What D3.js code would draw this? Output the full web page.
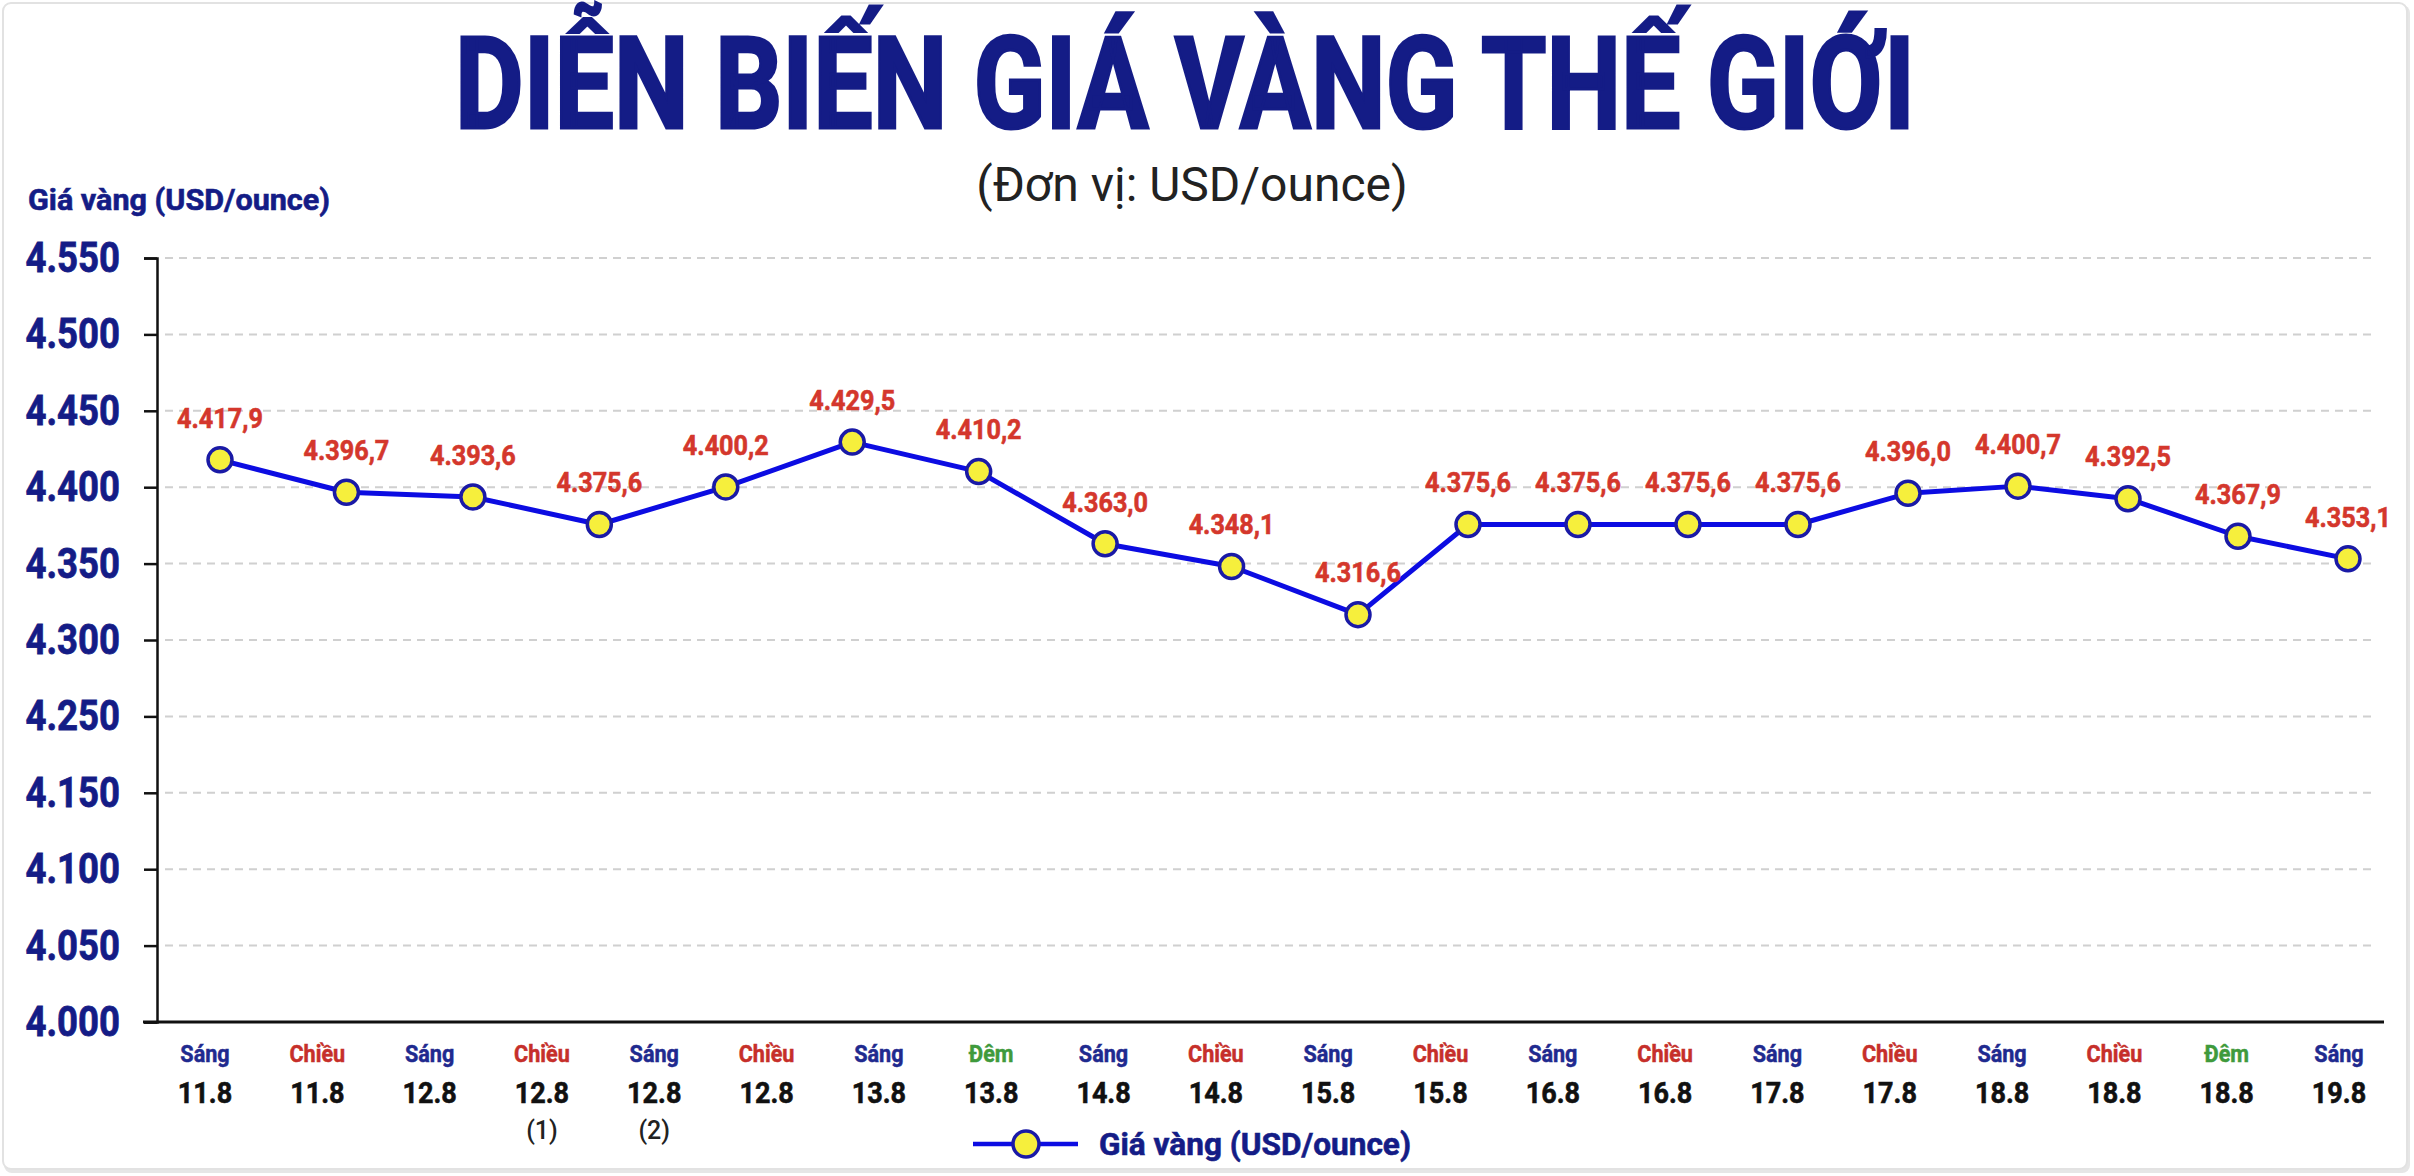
<!DOCTYPE html>
<html>
<head>
<meta charset="utf-8">
<script src="https://cdn.jsdelivr.net/npm/d3@7"></script>
<style>
  html, body { margin: 0; padding: 0; background: #fff; }
  svg { display: block; font-family: Roboto, "Noto Sans", sans-serif; }
</style>
</head>
<body>
<svg id="chart" width="2414" height="1176"></svg>
<script>
// --- data ---
const periods = ['Sáng', 'Chiều', 'Sáng', 'Chiều', 'Sáng', 'Chiều', 'Sáng', 'Đêm', 'Sáng', 'Chiều',
                 'Sáng', 'Chiều', 'Sáng', 'Chiều', 'Sáng', 'Chiều', 'Sáng', 'Chiều', 'Đêm', 'Sáng'];
const dates = ['11.8', '11.8', '12.8', '12.8', '12.8', '12.8', '13.8', '13.8', '14.8', '14.8',
               '15.8', '15.8', '16.8', '16.8', '17.8', '17.8', '18.8', '18.8', '18.8', '19.8'];
const notes = ['', '', '', '(1)', '(2)', '', '', '', '', '', '', '', '', '', '', '', '', '', '', ''];

// 19 price points (the picture shows 19 markers under 20 labels)
const prices = [4417.9, 4396.7, 4393.6, 4375.6, 4400.2, 4429.5, 4410.2, 4363.0, 4348.1, 4316.6,
                4375.6, 4375.6, 4375.6, 4375.6, 4396.0, 4400.7, 4392.5, 4367.9, 4353.1];

// y ticks as printed (the source skips 4.200)
const yTickValues = [4550, 4500, 4450, 4400, 4350, 4300, 4250, 4200, 4150, 4100, 4050];
const yTickLabels = ['4.550', '4.500', '4.450', '4.400', '4.350', '4.300', '4.250', '4.150', '4.100', '4.050', '4.000'];

const title = 'DIỄN BIẾN GIÁ VÀNG THẾ GIỚI';
const subtitle = '(Đơn vị: USD/ounce)';
const yTitle = 'Giá vàng (USD/ounce)';
const seriesName = 'Giá vàng (USD/ounce)';

// --- colours ---
const navy = '#141c86';
const periodColor = { 'Sáng': '#1f2a8f', 'Chiều': '#c62f2a', 'Đêm': '#3f9a3c' };
const labelRed = '#d4372c';
const lineBlue = '#0c0ce2';
const dotFill = '#f6ef3c';
const dotStroke = '#1a1aa6';

const width = 2414;
const height = 1176;
const plotLeft = 157, plotRight = 2384, plotTop = 258, plotBottom = 1022;

const svg = d3.select('#chart');

// squeeze text a little, the source uses a narrow bold face
function squeeze(sel, k) {
  sel.each(function() {
    const w = this.getComputedTextLength();
    d3.select(this).attr('textLength', w * k).attr('lengthAdjust', 'spacingAndGlyphs');
  });
}

// card
svg.append('rect')
  .attr('x', 4).attr('y', 5).attr('width', width - 8).attr('height', height - 8)
  .attr('rx', 8).attr('fill', '#e6e6e6');
svg.append('rect')
  .attr('x', 3).attr('y', 3).attr('width', width - 10).attr('height', height - 10)
  .attr('rx', 8).attr('fill', '#fff').attr('stroke', '#e2e2e2').attr('stroke-width', 2);

// titles
svg.append('text')
  .attr('x', 1185).attr('y', 128)
  .attr('text-anchor', 'middle')
  .attr('font-size', 128).attr('font-weight', 'bold')
  .attr('fill', navy).attr('stroke', navy).attr('stroke-width', 3)
  .attr('textLength', 1460).attr('lengthAdjust', 'spacingAndGlyphs')
  .text(title);

svg.append('text')
  .attr('x', 1192).attr('y', 201)
  .attr('text-anchor', 'middle')
  .attr('font-size', 48)
  .attr('fill', '#222')
  .text(subtitle);

svg.append('text')
  .attr('x', 28).attr('y', 210)
  .attr('font-size', 30).attr('font-weight', 'bold')
  .attr('fill', navy).attr('stroke', navy).attr('stroke-width', 0.6)
  .attr('textLength', 302).attr('lengthAdjust', 'spacingAndGlyphs')
  .text(yTitle);

// scales
const y = d3.scaleLinear()
  .domain([4050, 4550])
  .range([plotBottom, plotTop]);

const xCat = d3.scalePoint()
  .domain(d3.range(periods.length))
  .range([205, 2339]);

// the markers are spread a bit wider on the left half than the right half
const xPt = d3.scaleLinear()
  .domain([0, 9, prices.length - 1])
  .range([220, 1358, 2348]);

// gridlines
svg.append('g')
  .selectAll('line')
  .data(yTickValues.filter(d => d > 4050))
  .join('line')
  .attr('x1', 165).attr('x2', 2374)
  .attr('y1', d => y(d)).attr('y2', d => y(d))
  .attr('stroke', '#d0d0d0').attr('stroke-width', 2)
  .attr('stroke-dasharray', '8,6');

// y axis
const yAxis = svg.append('g')
  .attr('transform', `translate(${plotLeft},0)`)
  .call(d3.axisLeft(y)
    .tickValues(yTickValues)
    .tickFormat((d, i) => yTickLabels[i])
    .tickSize(13)
    .tickPadding(24));

yAxis.select('.domain').attr('stroke', '#111').attr('stroke-width', 2.5);
yAxis.selectAll('.tick line').attr('stroke', '#111').attr('stroke-width', 2.5);
yAxis.selectAll('.tick text')
  .attr('font-size', 42).attr('font-weight', 'bold')
  .attr('font-family', 'Roboto, sans-serif')
  .attr('fill', navy).attr('stroke', navy).attr('stroke-width', 0.8)
  .call(squeeze, 0.87);

// x axis line
svg.append('line')
  .attr('x1', 143).attr('x2', plotRight)
  .attr('y1', plotBottom).attr('y2', plotBottom)
  .attr('stroke', '#111').attr('stroke-width', 3);

// category labels
const cat = svg.append('g')
  .selectAll('g')
  .data(periods.map((p, i) => ({ period: p, date: dates[i], note: notes[i], i })))
  .join('g')
  .attr('transform', d => `translate(${xCat(d.i)},0)`);

cat.append('text')
  .attr('y', 1054).attr('dy', '0.35em')
  .attr('text-anchor', 'middle')
  .attr('font-size', 24).attr('font-weight', 'bold')
  .attr('fill', d => periodColor[d.period])
  .attr('stroke', d => periodColor[d.period]).attr('stroke-width', 0.5)
  .text(d => d.period)
  .call(squeeze, 0.9);

cat.append('text')
  .attr('y', 1092).attr('dy', '0.35em')
  .attr('text-anchor', 'middle')
  .attr('font-size', 30).attr('font-weight', 'bold')
  .attr('fill', '#111').attr('stroke', '#111').attr('stroke-width', 0.6)
  .text(d => d.date)
  .call(squeeze, 0.9);

cat.filter(d => d.note !== '')
  .append('text')
  .attr('y', 1130).attr('dy', '0.35em')
  .attr('text-anchor', 'middle')
  .attr('font-size', 25).attr('font-weight', 500)
  .attr('fill', '#222')
  .text(d => d.note);

// line
const line = d3.line()
  .x((d, i) => xPt(i))
  .y(d => y(d));

svg.append('path')
  .datum(prices)
  .attr('d', line)
  .attr('fill', 'none')
  .attr('stroke', lineBlue)
  .attr('stroke-width', 5)
  .attr('stroke-linejoin', 'round');

// markers
svg.append('g')
  .selectAll('circle')
  .data(prices)
  .join('circle')
  .attr('cx', (d, i) => xPt(i))
  .attr('cy', d => y(d))
  .attr('r', 12)
  .attr('fill', dotFill)
  .attr('stroke', dotStroke)
  .attr('stroke-width', 3.5);

// value labels, vietnamese style 4.417,9
const fmt = d => d3.format(',.1f')(d).replace(/,/g, '#').replace('.', ',').replace(/#/g, '.');

svg.append('g')
  .selectAll('text')
  .data(prices)
  .join('text')
  .attr('x', (d, i) => xPt(i))
  .attr('y', d => y(d) - 42)
  .attr('dy', '0.35em')
  .attr('text-anchor', 'middle')
  .attr('font-size', 28).attr('font-weight', 'bold')
  .attr('fill', labelRed).attr('stroke', labelRed).attr('stroke-width', 0.6)
  .text(fmt)
  .call(squeeze, 0.9);

// legend
const lg = svg.append('g').attr('transform', 'translate(973,1144)');
lg.append('line')
  .attr('x1', 0).attr('x2', 105)
  .attr('stroke', lineBlue).attr('stroke-width', 4.5);
lg.append('circle')
  .attr('cx', 53).attr('r', 13)
  .attr('fill', dotFill).attr('stroke', dotStroke).attr('stroke-width', 3.5);
lg.append('text')
  .attr('x', 126).attr('y', 11)
  .attr('font-size', 31).attr('font-weight', 'bold')
  .attr('fill', navy).attr('stroke', navy).attr('stroke-width', 0.6)
  .attr('textLength', 312).attr('lengthAdjust', 'spacingAndGlyphs')
  .text(seriesName);
</script>
</body>
</html>
